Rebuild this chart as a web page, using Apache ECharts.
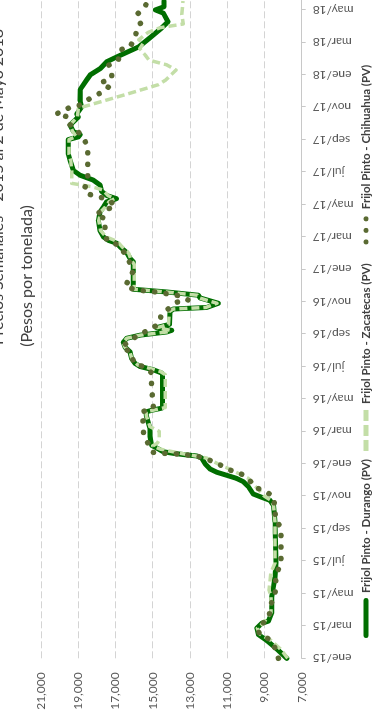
<!DOCTYPE html>
<html>
<head>
<meta charset="utf-8">
<script src="https://cdn.jsdelivr.net/npm/echarts@6/dist/echarts.min.js"></script>
<style>
  html, body { margin: 0; padding: 0; background: #fff; overflow: hidden; width: 381px; height: 721px; }
  /* the chart is laid out landscape and turned a quarter-turn counter-clockwise */
  #chart { position: absolute; left: 0; top: 0; width: 760px; height: 381px;
           transform-origin: 0 0; transform: translate(0px, 721px) rotate(-90deg); }
</style>
</head>
<body>
<div id="chart"></div>
<script>
// Month names used for the time-axis labels
const monthNames = ['ene','feb','mar','abr','may','jun','jul','ago','sep','oct','nov','dic'];
const startYear = 2015;

// Frijol Pinto - Durango (PV), pesos per tonne
const durangoDates = ['2015-01-01','2015-01-19','2015-02-04','2015-02-14','2015-02-25','2015-03-06','2015-03-10','2015-03-26','2015-04-25','2015-05-13','2015-06-01','2015-06-28','2015-09-13','2015-10-15','2015-10-24','2015-10-30','2015-11-05','2015-11-19','2015-11-28','2015-12-04','2015-12-10','2015-12-16','2015-12-22','2016-01-01','2016-01-12','2016-01-16','2016-01-18','2016-01-21','2016-01-24','2016-02-02','2016-02-05','2016-02-21','2016-03-07','2016-03-29','2016-04-07','2016-04-10','2016-04-14','2016-04-19','2016-06-13','2016-06-19','2016-06-25','2016-07-01','2016-07-07','2016-07-16','2016-07-29','2016-08-07','2016-08-16','2016-08-24','2016-08-30','2016-09-02','2016-09-05','2016-09-08','2016-09-13','2016-09-19','2016-10-13','2016-10-18','2016-10-21','2016-10-29','2016-11-08','2016-11-13','2016-11-19','2016-11-24','2017-01-15','2017-01-22','2017-02-02','2017-02-12','2017-02-18','2017-02-23','2017-03-01','2017-03-13','2017-04-01','2017-04-17','2017-04-26','2017-05-06','2017-05-12','2017-05-18','2017-05-26','2017-06-07','2017-06-16','2017-06-25','2017-07-04','2017-07-23','2017-08-04','2017-09-01','2017-09-06','2017-09-10','2017-09-16','2017-09-28','2017-10-13','2017-10-19','2017-11-01','2017-11-13','2017-12-04','2017-12-22','2018-01-01','2018-01-13','2018-01-26','2018-02-04','2018-02-21','2018-03-10','2018-03-26','2018-04-09','2018-04-25','2018-05-01','2018-05-07','2018-05-18'];
const durangoValues = [7800,8340,8880,9330,9410,9150,8790,8610,8610,8520,8430,8380,8430,8520,8700,9150,9600,9870,10140,10490,11030,11570,11920,12190,12370,12640,13180,13890,14430,14880,15060,15150,15150,15330,15360,15060,14520,14470,14470,14520,14970,15680,15950,16130,16220,16490,16580,16400,15680,14970,14250,13980,14800,14100,14070,13890,12100,11480,12460,12550,14250,16040,16040,16220,16400,16760,16940,17380,17650,17830,17920,17830,17650,17470,16950,17470,17740,17830,18190,18900,19260,19440,19530,19530,19000,18900,19260,19440,19000,19085,18820,18900,18890,18550,18350,17810,17460,16920,15760,15140,14600,14180,14430,14860,14400,14400];

// Frijol Pinto - Zacatecas (PV)
const zacatecasDates = ['2015-01-01','2015-01-19','2015-02-04','2015-02-15','2015-02-25','2015-03-07','2015-03-26','2015-04-25','2015-05-07','2015-06-10','2015-06-28','2015-09-13','2015-10-15','2015-10-24','2015-11-01','2015-11-16','2015-12-04','2015-12-19','2016-01-01','2016-01-12','2016-01-16','2016-01-21','2016-01-29','2016-02-04','2016-02-09','2016-02-15','2016-03-01','2016-03-10','2016-03-29','2016-04-07','2016-04-10','2016-04-15','2016-06-16','2016-06-22','2016-06-28','2016-07-04','2016-07-16','2016-07-29','2016-08-07','2016-08-16','2016-08-24','2016-08-30','2016-09-02','2016-09-05','2016-09-08','2016-09-13','2016-09-19','2016-10-13','2016-10-18','2016-10-21','2016-10-29','2016-11-08','2016-11-13','2016-11-19','2016-11-24','2017-01-10','2017-01-19','2017-02-01','2017-02-12','2017-02-21','2017-03-01','2017-03-13','2017-04-01','2017-04-17','2017-04-26','2017-05-06','2017-05-12','2017-05-18','2017-05-29','2017-06-04','2017-06-10','2017-07-04','2017-07-23','2017-08-04','2017-09-01','2017-09-07','2017-09-16','2017-09-28','2017-10-13','2017-10-29','2017-11-01','2017-11-14','2017-11-26','2017-12-13','2017-12-22','2018-01-10','2018-01-20','2018-01-29','2018-02-07','2018-02-18','2018-02-28','2018-03-06','2018-03-20','2018-03-29','2018-04-05','2018-04-22','2018-05-18'];
const zacatecasValues = [7750,8150,8650,9250,9380,9050,8650,8650,8750,8650,8430,8430,8520,8650,9000,9400,9860,10700,11500,12100,12700,13500,14600,15000,14750,14650,14650,15150,15330,15360,15000,14330,14330,14600,15200,15800,16130,16220,16490,16580,16400,15680,14970,14250,14050,14750,14150,14120,13900,12150,11550,12500,12600,14300,15990,15990,16150,16300,16650,16900,17500,17800,17900,17800,17550,17350,17050,17400,17700,18300,19350,19350,19400,19500,19500,19100,19300,19450,19050,19000,18800,17500,16300,14700,14300,13750,14250,15200,15400,15700,15500,15750,15250,14600,13360,13440,13380];

// Frijol Pinto - Chihuahua (PV)
const chihuahuaDates = ['2015-01-01','2015-01-19','2015-02-06','2015-02-15','2015-03-01','2015-03-17','2015-04-08','2015-04-27','2015-05-18','2015-06-08','2015-06-27','2015-09-02','2015-09-19','2015-10-09','2015-10-31','2015-11-12','2015-11-17','2015-12-01','2015-12-12','2015-12-20','2015-12-30','2016-01-08','2016-01-15','2016-01-18','2016-01-20','2016-01-21','2016-01-23','2016-02-08','2016-02-23','2016-03-16','2016-04-07','2016-04-14','2016-05-24','2016-06-19','2016-06-29','2016-07-07','2016-07-29','2016-08-08','2016-08-18','2016-08-30','2016-09-08','2016-09-19','2016-10-08','2016-10-31','2016-11-04','2016-11-12','2016-11-19','2016-11-23','2016-11-30','2016-12-15','2016-12-30','2017-01-19','2017-01-31','2017-02-15','2017-02-23','2017-03-14','2017-04-05','2017-04-11','2017-04-22','2017-04-25','2017-05-05','2017-05-13','2017-05-20','2017-05-29','2017-06-13','2017-07-08','2017-08-18','2017-09-05','2017-09-17','2017-09-30','2017-10-13','2017-10-19','2017-10-31','2017-11-05','2017-11-17','2017-11-27','2017-12-08','2017-12-17','2017-12-25','2018-01-01','2018-01-19','2018-01-29','2018-02-16','2018-02-21','2018-03-10','2018-03-24','2018-04-05','2018-04-22','2018-05-07','2018-05-16'];
const chihuahuaValues = [8250,8400,8740,9300,9250,8740,8700,8430,8420,8350,8110,8110,8420,8430,8520,9025,9510,9810,10220,10850,11390,11960,12550,13180,13800,14400,15000,15240,15500,15500,15590,14970,15060,15060,15360,15990,16220,16670,16250,15800,15250,14700,14520,13710,13090,13570,14820,15950,16490,16220,16040,16310,16490,16850,17470,17560,17560,18060,17650,17030,17210,17650,18370,18700,18500,18490,18490,18730,19050,19480,19500,20180,19480,18900,18370,17830,17380,17780,17200,17200,17380,16850,16760,16220,15950,15860,15650,15860,15420,15300];

// Value-axis range
const valueMin = 7000, valueMax = 21000, valueStep = 2000;

// months elapsed since 1 Jan of startYear, with the day as a fraction of its month
function monthOffset(s) {
  const [y, m, d] = s.split('-').map(Number);
  const days = new Date(y, m, 0).getDate();
  return (y - startYear) * 12 + (m - 1) + (d - 1) / days;
}
function pairs(dates, values) {
  return dates.map((d, i) => [monthOffset(d), values[i]]);
}

// legend keys drawn in a 44 x 5 box; the zero-length corner segments pin the box size
const BOX = 'M0,0L0.01,0ZM44,5L43.99,5Z';
const keySolid = 'path://' + BOX + 'M6.5,0H41.5A2.5,2.5 0 0 1 41.5,5H6.5A2.5,2.5 0 0 1 6.5,0Z';
const keyDashed = 'path://' + BOX + 'M2,0H13V5H2ZM17,0H28V5H17ZM32,0H43V5H32Z';
function dot(cx) { return 'M' + (cx - 2.6) + ',2.5A2.6,2.6 0 1 0 ' + (cx + 2.6) + ',2.5A2.6,2.6 0 1 0 ' + (cx - 2.6) + ',2.5Z'; }
const keyDotted = 'path://' + BOX + dot(16) + dot(28) + dot(40);

const FONT = 'Lato, "Open Sans", sans-serif';
const chart = echarts.init(document.getElementById('chart'), null, { renderer: 'canvas' });

chart.setOption({
  animation: false,
  backgroundColor: '#ffffff',
  grid: { left: 62.7, top: 41, bottom: 79.3, right: 16.5, containLabel: false },
  graphic: [
    { type: 'text', x: 376, y: -2,
      style: { text: 'Precios Semanales - 2015 al 2 de Mayo 2018', font: '16px ' + FONT,
               fill: '#404040', align: 'left', verticalAlign: 'middle' } },
    { type: 'text', x: 445, y: 27,
      style: { text: '(Pesos por tonelada)', font: '16px ' + FONT,
               fill: '#404040', align: 'center', verticalAlign: 'middle' } }
  ],
  legend: {
    left: 74, bottom: 4,
    itemWidth: 44, itemHeight: 5, itemGap: 6,
    textStyle: { fontFamily: FONT, fontSize: 11.5, fontWeight: 'bold', color: '#404040' },
    data: [
      { name: 'Frijol Pinto - Durango (PV)', icon: keySolid },
      { name: 'Frijol Pinto - Zacatecas (PV)', icon: keyDashed },
      { name: 'Frijol Pinto - Chihuahua (PV)', icon: keyDotted }
    ]
  },
  xAxis: {
    type: 'value', min: 0, max: 42, interval: 2,
    axisLine: { show: true, lineStyle: { color: '#c8c8c8', width: 1 } },
    axisTick: { show: true, length: 4, lineStyle: { color: '#c8c8c8' } },
    splitLine: { show: false },
    axisLabel: {
      rotate: 90, margin: 11, color: '#595959', fontFamily: FONT, fontSize: 12,
      formatter: function (v) {
        const k = Math.round(v);
        if (Math.abs(v - k) > 1e-6) return '';
        return monthNames[k % 12] + '/' + String((startYear + Math.floor(k / 12)) % 100);
      }
    }
  },
  yAxis: {
    type: 'value', min: valueMin, max: valueMax, interval: valueStep,
    axisLine: { show: false }, axisTick: { show: false },
    splitLine: { show: true, lineStyle: { color: '#d4d4d4', width: 1, type: [7, 3] } },
    axisLabel: {
      margin: 14, color: '#595959', fontFamily: FONT, fontSize: 12,
      formatter: v => v.toLocaleString('en-US')
    }
  },
  series: [
    { name: 'Frijol Pinto - Durango (PV)', type: 'line', symbol: 'none',
      data: pairs(durangoDates, durangoValues),
      lineStyle: { color: '#006e00', width: 5, cap: 'round', join: 'round' },
      itemStyle: { color: '#006e00' } },
    { name: 'Frijol Pinto - Zacatecas (PV)', type: 'line', symbol: 'none',
      data: pairs(zacatecasDates, zacatecasValues),
      lineStyle: { color: '#c3dea7', width: 3.5, type: [8, 4], join: 'round' },
      itemStyle: { color: '#c3dea7' } },
    { name: 'Frijol Pinto - Chihuahua (PV)', type: 'line', symbol: 'none',
      data: pairs(chihuahuaDates, chihuahuaValues),
      lineStyle: { color: '#5a6a32', width: 5.5, type: [0.1, 11.4], cap: 'round', join: 'round' },
      itemStyle: { color: '#5a6a32' } }
  ]
});
</script>
</body>
</html>
